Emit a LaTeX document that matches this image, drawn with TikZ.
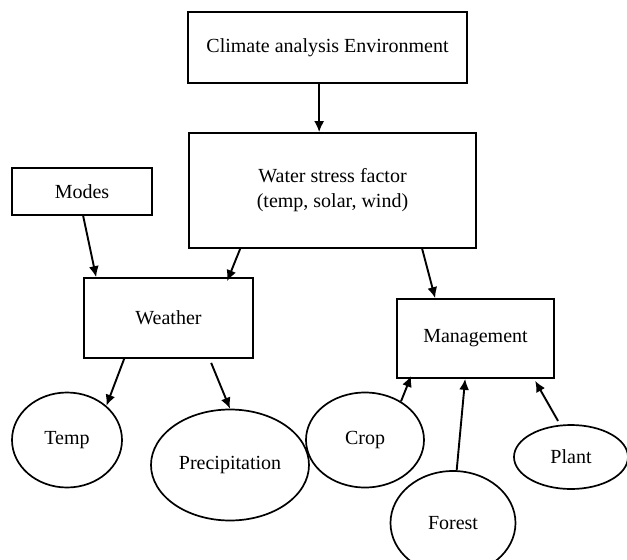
\documentclass[tikz,border=0pt]{standalone}
\usepackage{fontspec}
\setmainfont{Liberation Serif}
\usepackage{tikz}
\usetikzlibrary{shapes.geometric,arrows.meta}

\begin{document}
\begin{tikzpicture}[x=1pt,y=-1pt,
        font=\fontsize{20}{25}\selectfont,
        box/.style={draw,line width=1.7pt,rectangle,inner sep=0pt,align=center},
        blob/.style={draw,line width=1.7pt,ellipse,inner sep=0pt},
        link/.style={line width=1.9pt,-{Latex[length=11pt,width=10pt]}}]
        \clip (0,0) rectangle (627,560);
        % boxes
        \node[box,minimum width=279pt,minimum height=71pt] (climate) at (327.5,47.5) {Climate analysis Environment};
        \node[box,minimum width=287pt,minimum height=115pt] (water) at (332.5,190.5) {Water stress factor\\(temp, solar, wind)};
        \node[box,minimum width=140pt,minimum height=47pt] (modes) at (82,191.5) {Modes};
        \node[box,minimum width=169pt,minimum height=80pt] (weather) at (168.5,318) {Weather};
        \node[box,minimum width=157pt,minimum height=79pt] (management) at (475.5,338.5) {Management};
        % ellipses
        \node[blob,minimum width=110pt,minimum height=95pt] (temp) at (67,440) {Temp};
        \node[blob,minimum width=158pt,minimum height=111pt] (precip) at (230,465) {Precipitation};
        \node[blob,minimum width=118pt,minimum height=95pt] (crop) at (365,440) {Crop};
        \node[blob,minimum width=125pt,minimum height=104pt] (forest) at (453,523) {Forest};
        \node[blob,minimum width=114pt,minimum height=64pt] (plant) at (571,457) {Plant};
        % arrows
        \draw[link] ([xshift=132pt]climate.south west) -- ([xshift=131pt]water.north west);
        \draw[link] ([xshift=72pt]modes.south west) -- ([xshift=13pt]weather.north west);
        \draw[link] ([xshift=52pt]water.south west) -- ([xshift=144pt,yshift=-4pt]weather.north west);
        \draw[link] ([xshift=234pt]water.south west) -- ([xshift=39pt]management.north west);
        \draw[link] ([xshift=41pt]weather.south west) -- (temp.41);
        \draw[link] ([xshift=128pt,yshift=-4pt]weather.south west) -- (precip.north);
        \draw[link] (crop.47) -- ([xshift=15pt,yshift=3pt]management.south west);
        \draw[link] (forest.86) -- ([xshift=69pt]management.south west);
        \draw[link] ([yshift=4pt]plant.112) -- ([xshift=139pt,yshift=-2pt]management.south west);
\end{tikzpicture}
\end{document}
